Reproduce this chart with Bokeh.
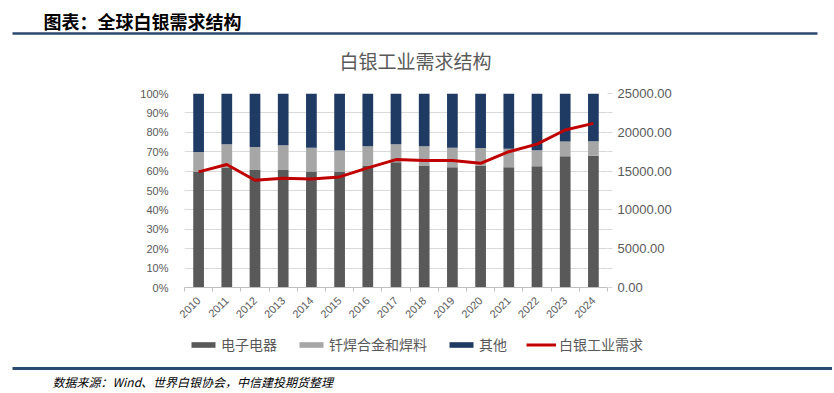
from bokeh.plotting import figure
from bokeh.models import (Range1d, LinearAxis, FixedTicker, NumeralTickFormatter,
                          Legend, LegendItem, ColumnDataSource)
from bokeh.layouts import column
from bokeh.embed import file_html
from bokeh.resources import INLINE
from bokeh.core.properties import value

# ---------------- data ----------------
years = ["2010", "2011", "2012", "2013", "2014", "2015", "2016", "2017",
         "2018", "2019", "2020", "2021", "2022", "2023", "2024"]
electronics = [59.5, 61.8, 60.8, 60.8, 59.8, 59.6, 62.9, 64.6, 62.9, 62.0, 62.9, 62.0, 62.5, 67.6, 67.9]
solder = [10.3, 12.0, 11.6, 12.5, 12.2, 11.0, 9.9, 9.2, 9.9, 10.0, 9.0, 9.5, 8.2, 7.7, 7.5]
industrial = [14900, 15850, 13820, 14090, 13990, 14250, 15420, 16480,
              16380, 16380, 16000, 17500, 18480, 20300, 21150]
pct_ticks = [0, 0.1, 0.2, 0.3, 0.4, 0.5, 0.6, 0.7, 0.8, 0.9, 1.0]
amt_ticks = [0, 5000, 10000, 15000, 20000, 25000]
amt_minor = [2500, 7500, 12500, 17500, 22500]

header_title = "图表：全球白银需求结构"
chart_title = "白银工业需求结构"
source_text = "数据来源：Wind、世界白银协会，中信建投期货整理"
names = ["电子电器", "钎焊合金和焊料", "其他", "白银工业需求"]

C_DARK = "#595959"
C_GRAY = "#a6a6a6"
C_NAVY = "#1f3b63"
C_RED = "#c00000"
C_LINE = "#2b4a70"
TXT = "#595959"
CJK = "Noto Sans CJK SC"
W = 832


def blank(h):
    f = figure(width=W, height=h, x_range=Range1d(0, W), y_range=Range1d(h, 0),
               output_backend="svg", toolbar_location=None,
               x_axis_location=None, y_axis_location=None, min_border=0)
    f.frame_align = False
    f.outline_line_color = None
    f.xgrid.visible = False
    f.ygrid.visible = False
    return f


# ---------------- header ----------------
HH = 75
ph = blank(HH)
ph.segment(x0=[12], y0=[33], x1=[817], y1=[33], line_color=C_LINE, line_width=2.5)
ph.text(x=[43], y=[20], text=[header_title], text_font=value(CJK),
        text_font_size="18px", text_font_style="bold", text_color="#000000",
        text_baseline="middle", text_align="left")
ph.text(x=[415], y=[60], text=[chart_title], text_font=value(CJK),
        text_font_size="19px", text_color=TXT,
        text_baseline="middle", text_align="center")

# ---------------- main chart ----------------
x = list(range(len(years)))
other = [round(100 - e - s, 2) for e, s in zip(electronics, solder)]
src = ColumnDataSource(dict(
    x=x,
    e=[v / 100 for v in electronics],
    s=[v / 100 for v in solder],
    o=[v / 100 for v in other],
    amt=industrial,
))

MH = 255
p = figure(width=W, height=MH, x_range=Range1d(-0.5, len(years) - 0.5),
           y_range=Range1d(0, 1), output_backend="svg", toolbar_location=None,
           min_border_left=184, min_border_right=W - 607, min_border_top=18,
           min_border_bottom=43)
p.frame_align = False
p.outline_line_color = None
p.extra_y_ranges = {"amt": Range1d(0, 25000)}

bars = p.vbar_stack(["e", "s", "o"], x="x", width=0.38, source=src,
                    color=[C_DARK, C_GRAY, C_NAVY], line_color=None)
ln = p.line(x="x", y="amt", source=src, y_range_name="amt",
            line_color=C_RED, line_width=3)

# x axis
p.xaxis.ticker = FixedTicker(ticks=x, minor_ticks=[i - 0.5 for i in range(len(years) + 1)])
p.xaxis.major_label_overrides = {i: y for i, y in enumerate(years)}
p.xaxis.major_label_orientation = 0.785398
p.xaxis.major_tick_line_color = None
p.xaxis.minor_tick_line_color = "#bfbfbf"
p.xaxis.minor_tick_out = 4
p.xaxis.minor_tick_in = 0
p.xaxis.axis_line_color = "#bfbfbf"
p.xaxis.major_label_text_font = "Liberation Sans"
p.xaxis.major_label_text_font_size = "11px"
p.xaxis.major_label_text_color = TXT
p.xaxis.major_label_standoff = 5
p.xgrid.visible = False

# left axis
p.yaxis.ticker = FixedTicker(ticks=pct_ticks)
p.yaxis.formatter = NumeralTickFormatter(format="0%")
p.yaxis.axis_line_color = None
p.yaxis.major_tick_line_color = None
p.yaxis.minor_tick_line_color = None
p.yaxis.major_label_text_font = "Liberation Sans"
p.yaxis.major_label_text_font_size = "11px"
p.yaxis.major_label_text_color = TXT
p.yaxis.major_label_standoff = 10
p.ygrid.ticker = FixedTicker(ticks=pct_ticks)
p.ygrid.grid_line_color = "#d9d9d9"

# right axis
ra = LinearAxis(y_range_name="amt",
                ticker=FixedTicker(ticks=amt_ticks, minor_ticks=amt_minor),
                formatter=NumeralTickFormatter(format="0.00"))
ra.axis_line_color = None
ra.major_tick_line_color = "#d9d9d9"
ra.minor_tick_line_color = "#d9d9d9"
ra.major_tick_out = 5
ra.major_tick_in = 0
ra.minor_tick_out = 5
ra.minor_tick_in = 0
ra.major_label_text_font = "Liberation Sans"
ra.major_label_text_font_size = "13px"
ra.major_label_text_color = TXT
ra.major_label_standoff = 5
p.add_layout(ra, "right")

# ---------------- legend strip ----------------
LH = 28
pl = blank(LH)
pl.extra_y_ranges = {"off": Range1d(1e6, 2e6)}
lr = list(pl.vbar_stack(["e", "s", "o"], x="x", width=0.38, source=src,
                        color=[C_DARK, C_GRAY, C_NAVY], line_color=None,
                        y_range_name="off"))
lr.append(pl.line(x="x", y="amt", source=src, y_range_name="off",
                  line_color=C_RED, line_width=3))
legend = Legend(items=[LegendItem(label=n, renderers=[r]) for n, r in zip(names, lr)],
                orientation="horizontal", location=(188, 4))
legend.label_text_font = CJK
legend.label_text_font_size = "14px"
legend.label_text_color = TXT
legend.glyph_width = 30
legend.glyph_height = 7
legend.label_standoff = 3
legend.spacing = 19
legend.padding = 0
legend.margin = 0
legend.border_line_color = None
legend.background_fill_alpha = 0
pl.add_layout(legend)

# ---------------- footer ----------------
FH = 34
pf = blank(FH)
pf.segment(x0=[12], y0=[10], x1=[W], y1=[10], line_color=C_LINE, line_width=3)
pf.text(x=[52], y=[23], text=[source_text], text_font=value(CJK),
        text_font_size="12px", text_font_style="italic", text_color="#000000",
        text_baseline="middle", text_align="left")

layout = column(ph, p, pl, pf, spacing=0)
open("out.html", "w").write(file_html(layout, INLINE))
